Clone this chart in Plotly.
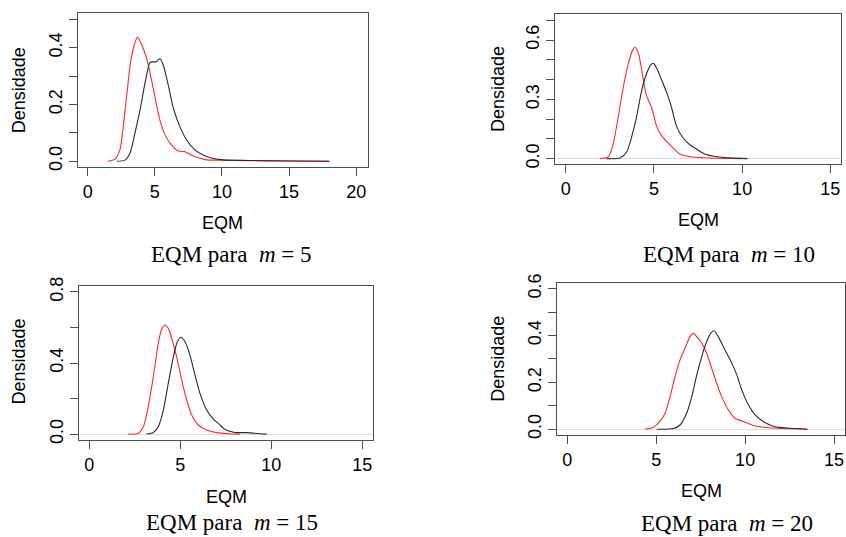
import plotly.graph_objects as go

# ---------------- data ----------------
# Panel m = 5
m5_red_x = [1.5, 2.03, 2.4, 2.65, 2.9, 3.15, 3.4, 3.72, 4.02, 4.39, 4.76, 5.01, 5.38, 5.76, 6.25, 6.75, 7.24, 7.49, 8.11, 8.86, 9.85, 12.0, 15.0, 18.0]
m5_red_y = [0.0, 0.007, 0.04, 0.122, 0.227, 0.333, 0.398, 0.437, 0.41, 0.363, 0.286, 0.227, 0.145, 0.093, 0.057, 0.036, 0.034, 0.028, 0.014, 0.005, 0.004, 0.002, 0.001, 0.0]
m5_blk_x = [2.16, 2.78, 3.15, 3.52, 3.9, 4.27, 4.64, 4.89, 5.09, 5.38, 5.63, 6.0, 6.38, 6.87, 7.37, 7.99, 8.61, 9.35, 10.1, 12.0, 15.0, 18.0]
m5_blk_y = [0.0, 0.004, 0.028, 0.099, 0.18, 0.275, 0.347, 0.35, 0.35, 0.361, 0.339, 0.269, 0.187, 0.122, 0.075, 0.04, 0.022, 0.01, 0.005, 0.003, 0.001, 0.0]

# Panel m = 10
m10_red_x = [1.94, 2.42, 2.7, 2.98, 3.27, 3.55, 3.8, 3.93, 4.12, 4.31, 4.56, 4.88, 5.16, 5.44, 5.82, 6.2, 6.48, 7.05, 8.2, 10.0]
m10_red_y = [0.0, 0.01, 0.078, 0.212, 0.364, 0.482, 0.55, 0.563, 0.533, 0.448, 0.325, 0.255, 0.162, 0.115, 0.078, 0.044, 0.022, 0.01, 0.003, 0.0]
m10_blk_x = [2.32, 3.08, 3.46, 3.74, 4.02, 4.31, 4.59, 4.82, 4.97, 5.16, 5.44, 5.76, 6.01, 6.29, 6.67, 7.05, 7.43, 7.9, 8.56, 9.3, 10.3]
m10_blk_y = [0.0, 0.003, 0.035, 0.111, 0.212, 0.347, 0.432, 0.474, 0.482, 0.457, 0.398, 0.325, 0.255, 0.162, 0.103, 0.069, 0.048, 0.022, 0.01, 0.004, 0.0]

# Panel m = 15
m15_red_x = [2.14, 2.69, 2.97, 3.24, 3.52, 3.79, 3.98, 4.16, 4.34, 4.53, 4.8, 5.08, 5.35, 5.63, 5.99, 6.45, 7.0, 7.73, 8.28]
m15_red_y = [0.0, 0.003, 0.041, 0.154, 0.323, 0.511, 0.59, 0.614, 0.595, 0.539, 0.435, 0.304, 0.192, 0.107, 0.051, 0.023, 0.008, 0.002, 0.0]
m15_blk_x = [3.15, 3.52, 3.79, 4.07, 4.34, 4.62, 4.84, 5.04, 5.26, 5.53, 5.81, 6.08, 6.45, 6.81, 7.09, 7.46, 8.01, 8.65, 9.38, 9.75]
m15_blk_y = [0.0, 0.009, 0.041, 0.135, 0.286, 0.435, 0.52, 0.545, 0.52, 0.445, 0.332, 0.229, 0.135, 0.085, 0.06, 0.026, 0.009, 0.008, 0.002, 0.0]

# Panel m = 20
m20_red_x = [4.37, 4.84, 5.21, 5.5, 5.78, 6.06, 6.34, 6.62, 6.9, 7.09, 7.28, 7.56, 7.84, 8.12, 8.4, 8.68, 9.06, 9.43, 9.9, 10.46, 11.2, 12.2, 13.5]
m20_red_y = [0.0, 0.008, 0.033, 0.068, 0.139, 0.225, 0.296, 0.346, 0.395, 0.41, 0.395, 0.367, 0.324, 0.26, 0.196, 0.139, 0.082, 0.047, 0.033, 0.016, 0.007, 0.003, 0.0]
m20_blk_x = [5.03, 5.96, 6.34, 6.71, 7.0, 7.28, 7.56, 7.84, 8.07, 8.25, 8.49, 8.87, 9.25, 9.53, 9.81, 10.18, 10.56, 11.02, 11.59, 12.34, 13.5]
m20_blk_y = [0.0, 0.003, 0.018, 0.068, 0.139, 0.232, 0.31, 0.374, 0.41, 0.42, 0.395, 0.338, 0.282, 0.232, 0.168, 0.104, 0.061, 0.033, 0.013, 0.005, 0.0]

m_values = [5, 10, 15, 20]
x_tick_vals = [[0, 5, 10, 15, 20], [0, 5, 10, 15], [0, 5, 10, 15], [0, 5, 10, 15]]
y_tick_vals = [[0.0, 0.1, 0.2, 0.3, 0.4, 0.5],
               [0.0, 0.1, 0.2, 0.3, 0.4, 0.5, 0.6, 0.7],
               [0.0, 0.2, 0.4, 0.6, 0.8],
               [0.0, 0.1, 0.2, 0.3, 0.4, 0.5, 0.6]]
y_tick_text = [["0.0", "", "0.2", "", "0.4", ""],
               ["0.0", "", "", "0.3", "", "", "0.6", ""],
               ["0.0", "", "0.4", "", "0.8"],
               ["0.0", "", "0.2", "", "0.4", "", "0.6"]]
x_ranges = [[-0.72, 20.88], [-0.59, 15.62], [-0.58, 15.57], [-0.58, 15.6]]
y_ranges = [[-0.0201, 0.522], [-0.027, 0.73], [-0.035, 0.832], [-0.026, 0.624]]
show_zero = [False, True, True, True]

series = [
    (m5_red_x, m5_red_y, m5_blk_x, m5_blk_y),
    (m10_red_x, m10_red_y, m10_blk_x, m10_blk_y),
    (m15_red_x, m15_red_y, m15_blk_x, m15_blk_y),
    (m20_red_x, m20_red_y, m20_blk_x, m20_blk_y),
]

# ---------------- layout geometry (pixels) ----------------
W, H = 846, 537
boxes = [(78, 368, 13, 167), (555.3, 841.3, 14.3, 164), (78.7, 372.7, 286.3, 440.3), (557, 844.7, 283, 435.3)]
eqm_pos = [(222.5, 223.5), (698.3, 220), (226, 497.3), (701.3, 491.3)]
dens_pos = [(19.3, 90), (498, 89), (19.3, 361.3), (498, 358.8)]
cap_pos = [(231, 254), (728.5, 254), (232, 522), (726.5, 523)]

SANS = "Liberation Sans, Arial, sans-serif"
SERIF = "Liberation Serif, Times New Roman, serif"
AX = "#4d4d4d"
FS = 18

fig = go.Figure()
layout = dict(width=W, height=H, margin=dict(l=0, r=0, t=0, b=0, autoexpand=False),
              paper_bgcolor="white", plot_bgcolor="white", showlegend=False)
annotations = []

for i in range(4):
    sfx = "" if i == 0 else str(i + 1)
    rx, ry, bx, by = series[i]
    fig.add_trace(go.Scatter(x=rx, y=ry, mode="lines", xaxis="x" + sfx, yaxis="y" + sfx,
                             line=dict(color="rgb(255,40,40)", width=1.1, shape="spline", smoothing=0.7)))
    fig.add_trace(go.Scatter(x=bx, y=by, mode="lines", xaxis="x" + sfx, yaxis="y" + sfx,
                             line=dict(color="rgb(40,40,40)", width=1.1, shape="spline", smoothing=0.7)))
    x0, x1, y0, y1 = boxes[i]
    layout["xaxis" + sfx] = dict(domain=[x0 / W, x1 / W], range=x_ranges[i], anchor="y" + sfx,
                                 tickvals=x_tick_vals[i], ticks="outside", ticklen=8, tickcolor=AX,
                                 showline=True, mirror=True, linecolor=AX, linewidth=1,
                                 showgrid=False, zeroline=False, automargin=False,
                                 tickfont=dict(family=SANS, size=FS, color="black"))
    layout["yaxis" + sfx] = dict(domain=[1 - y1 / H, 1 - y0 / H], range=y_ranges[i], anchor="x" + sfx,
                                 tickvals=y_tick_vals[i], ticktext=y_tick_text[i], tickangle=-90,
                                 ticks="outside", ticklen=8, tickcolor=AX,
                                 showline=True, mirror=True, linecolor=AX, linewidth=1,
                                 showgrid=False, zeroline=show_zero[i], zerolinecolor="#dcdcdc", zerolinewidth=1,
                                 automargin=False,
                                 tickfont=dict(family=SANS, size=FS, color="black"))
    ex, ey = eqm_pos[i]
    annotations.append(dict(text="EQM", x=ex / W, y=1 - ey / H, xref="paper", yref="paper",
                            showarrow=False, xanchor="center", yanchor="middle",
                            font=dict(family=SANS, size=FS, color="black")))
    dx, dy = dens_pos[i]
    annotations.append(dict(text="Densidade", x=dx / W, y=1 - dy / H, xref="paper", yref="paper",
                            showarrow=False, xanchor="center", yanchor="middle", textangle=-90,
                            font=dict(family=SANS, size=FS, color="black")))
    cx, cy = cap_pos[i]
    annotations.append(dict(text="EQM para&nbsp;&nbsp;<i>m</i>&nbsp;=&nbsp;" + str(m_values[i]),
                            x=cx / W, y=1 - cy / H, xref="paper", yref="paper",
                            showarrow=False, xanchor="center", yanchor="middle",
                            font=dict(family=SERIF, size=23, color="black")))

layout["annotations"] = annotations
fig.update_layout(**layout)
fig.write_html("out.html", config={"displayModeBar": False},
               post_script="document.body.style.margin='0';document.body.style.padding='0';"
                           "document.documentElement.style.overflow='hidden';")
